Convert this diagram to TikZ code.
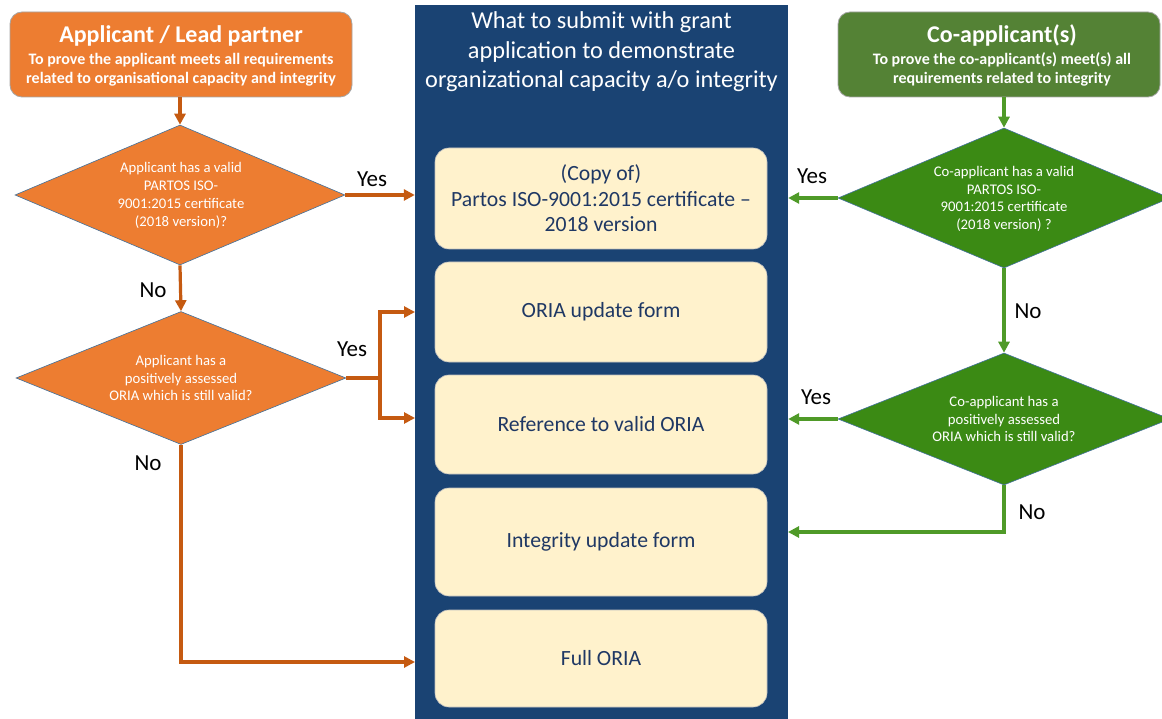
\documentclass[tikz,border=0pt]{standalone}
\usepackage{fontspec}
\setmainfont{Carlito}
\usetikzlibrary{shapes.geometric,arrows.meta}
\definecolor{orfill}{HTML}{ED7D31}
\definecolor{orline}{HTML}{C55A11}
\definecolor{grbox}{HTML}{548235}
\definecolor{grdia}{HTML}{3B8A14}
\definecolor{grline}{HTML}{4F9A28}
\definecolor{panelblue}{HTML}{1A4373}
\definecolor{cream}{HTML}{FFF2CC}
\definecolor{txtblue}{HTML}{1F3864}
\definecolor{diaborder}{HTML}{41719C}
\tikzset{
  topbox/.style={draw=gray!70, line width=0.8pt, rounded corners=12pt, inner sep=0pt, text=white, align=center},
  dia/.style={diamond, draw=diaborder, line width=0.6pt, inner sep=0pt},
  diatext/.style={text=white, align=center, font=\fontsize{14.7}{17.8}\selectfont},
  panel/.style={fill=panelblue, draw=none, inner sep=0pt},
  subbox/.style={fill=cream, draw=gray!50, line width=0.6pt, rounded corners=14pt, minimum width=332pt, inner sep=0pt, text=txtblue, align=center, font=\fontsize{21.7}{25.5}\selectfont},
  lbl/.style={text=black, font=\fontsize{23}{26}\selectfont},
  oline/.style={draw=orline, line width=3.2pt},
  oarr/.style={draw=orline, line width=3.2pt, -{Triangle[length=11pt,width=11pt]}},
  garr/.style={draw=grline, line width=3.2pt, -{Triangle[length=11pt,width=11pt]}},
}
\begin{document}
\begin{tikzpicture}[x=1pt,y=-1pt]
\useasboundingbox (0,0) rectangle (1162,719);
\clip (0,0) rectangle (1162,719);
\fill[white] (0,0) rectangle (1162,719);

% centre panel
\node[panel, minimum width=373pt, minimum height=716pt] (panel) at (601.5,363) {};
\node[text=white, align=center, font=\fontsize{24.3}{29.5}\selectfont] (head) at (601.5,52) {What to submit with grant\\application to demonstrate\\organizational capacity a/o integrity};

\node[subbox, minimum height=101pt] (box1) at (601,198.5) {(Copy of)\\Partos ISO-9001:2015 certificate --\\2018 version};
\node[subbox, minimum height=100pt] (box2) at (601,312) {ORIA update form};
\node[subbox, minimum height=99pt] (box3) at (601,424.5) {Reference to valid ORIA};
\node[subbox, minimum height=108pt] (box4) at (601,542) {Integrity update form};
\node[subbox, minimum height=97pt] (box5) at (601,658.5) {Full ORIA};

% left top box
\node[topbox, fill=orfill, minimum width=342pt, minimum height=85pt] (lbox) at (181,54.5) {};
\node[text=white, align=center, font=\bfseries\fontsize{24}{26}\selectfont] (ltitle) at (181,36) {Applicant / Lead partner};
\node[text=white, align=center, font=\bfseries\fontsize{16}{19}\selectfont] (lsub) at (181,70) {To prove the applicant meets all requirements\\related to organisational capacity and integrity};

% right top box
\node[topbox, fill=grbox, minimum width=322pt, minimum height=85pt] (rbox) at (999,54.5) {};
\node[text=white, align=center, font=\bfseries\fontsize{24}{26}\selectfont] (rtitle) at (1002,35) {Co-applicant(s)};
\node[text=white, align=center, font=\bfseries\fontsize{16}{19}\selectfont] (rsub) at (1002,69.5) {To prove the co-applicant(s) meet(s) all\\requirements related to integrity};

% left diamonds
\node[dia, fill=orfill, minimum width=330pt, minimum height=140pt] (d1) at (180,195) {};
\node[diatext] (d1t) at (181,195.5) {Applicant has a valid\\PARTOS ISO-\\9001:2015 certificate\\(2018 version)?};
\node[dia, fill=orfill, minimum width=330pt, minimum height=133pt] (d2) at (181,378) {};
\node[diatext] (d2t) at (d2) {Applicant has a\\positively assessed\\ORIA which is still valid?};

% right diamonds
\node[dia, fill=grdia, minimum width=332pt, minimum height=140pt] (d3) at (1004,198) {};
\node[diatext] (d3t) at (1004,199) {Co-applicant has a valid\\PARTOS ISO-\\9001:2015 certificate\\(2018 version) ?};
\node[dia, fill=grdia, minimum width=332pt, minimum height=132pt] (d4) at (1004,419) {};
\node[diatext] (d4t) at (d4) {Co-applicant has a\\positively assessed\\ORIA which is still valid?};

% left connectors
\draw[oarr] (lbox.south -| d1.north) -- (d1.north);
\draw[oarr] (d1.east) -- (d1.east -| panel.west);
\node[lbl] (yes1) at (372,179) {Yes};
\draw[oarr] (d1.south) -- (d2.north);
\node[lbl] (no1) at (153,290) {No};
\coordinate (ysplit) at (380,378);
\coordinate (y2top) at (380,312);
\coordinate (y2bot) at (380,418);
\coordinate (y2a) at (415,312);
\coordinate (y2b) at (415,418);
\draw[oline] (d2.east) -- (ysplit);
\draw[oarr] (ysplit) -- (y2top) -- (y2a);
\draw[oarr] (ysplit) -- (y2bot) -- (y2b);
\node[lbl] (yes2) at (352,349) {Yes};
\coordinate (n2) at (415,662);
\draw[oarr] (d2.south) |- (n2);
\node[lbl] (no2) at (148,463) {No};

% right connectors
\draw[garr] (d3.north |- rbox.south) -- (d3.north);
\draw[garr] (d3.west) -- (d3.west -| panel.east);
\node[lbl] (yes3) at (812,176) {Yes};
\draw[garr] (d3.south) -- (d4.north);
\node[lbl] (no3) at (1028,311) {No};
\draw[garr] (d4.west) -- (d4.west -| panel.east);
\node[lbl] (yes4) at (816,397) {Yes};
\coordinate (n4) at (788,532);
\draw[garr] (d4.south) |- (n4);
\node[lbl] (no4) at (1032,512) {No};
\end{tikzpicture}
\end{document}
